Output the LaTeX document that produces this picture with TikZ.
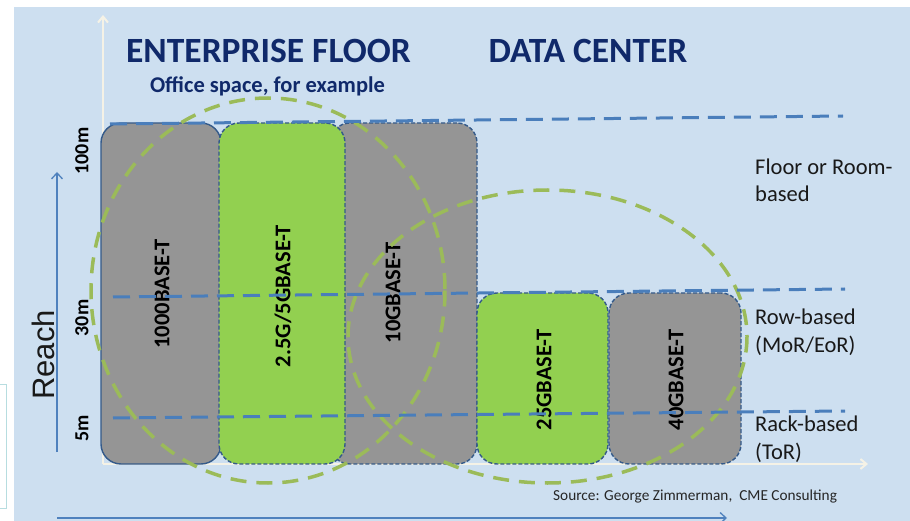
\documentclass[tikz,border=0pt]{standalone}
\usepackage{fontspec}
\setmainfont{Carlito}
\newfontfamily\arialfont{Liberation Sans}
\usetikzlibrary{arrows.meta}
\definecolor{bgblue}{HTML}{CDDFF0}
\definecolor{boxgray}{HTML}{959595}
\definecolor{boxgreen}{HTML}{92D050}
\definecolor{boxedge}{HTML}{345A8A}
\definecolor{lineblue}{HTML}{4A7EBB}
\definecolor{circgreen}{HTML}{9BBB59}
\definecolor{navy}{HTML}{10296A}
\definecolor{axiscream}{HTML}{F5F2E6}
\definecolor{tealedge}{HTML}{B7DDE0}
\definecolor{reachblue}{HTML}{4F81BD}
\tikzset{
  boxbase/.style={rounded corners=20pt, inner sep=0pt, outer sep=0pt, line width=1.4pt, draw=boxedge},
  graybox/.style={boxbase, fill=boxgray, dash pattern=on 4pt off 2pt},
  greenbox/.style={boxbase, fill=boxgreen, dash pattern=on 4pt off 2pt},
  solidgraybox/.style={boxbase, fill=boxgray},
  boxlabel/.style={rotate=90, font=\fontsize{22.5}{27}\selectfont\bfseries, text=black, inner sep=0pt},
  distlabel/.style={rotate=90, font=\fontsize{20}{24}\selectfont\bfseries, text=black, inner sep=0pt},
  sidelabel/.style={anchor=west, align=left, font=\fontsize{22.5}{27.5}\selectfont, text=black!90, inner sep=0pt},
  title/.style={font=\fontsize{35.5}{40}\selectfont\bfseries, text=navy, inner sep=0pt},
  subtitle/.style={font=\fontsize{22.5}{27}\selectfont\bfseries, text=navy, inner sep=0pt},
  reachline/.style={dashed, dash pattern=on 17pt off 9pt, line width=3pt, draw=lineblue},
  circ/.style={dash pattern=on 16pt off 10pt, line width=3.5pt, draw=circgreen},
  axisline/.style={line width=2pt, draw=axiscream, -{Straight Barb[length=6pt,width=10pt]}},
  thinarrow/.style={line width=1.3pt, draw=reachblue, -{Straight Barb[length=6pt,width=11pt]}}
}
\begin{document}
\begin{tikzpicture}[x=1pt,y=-1pt]
\useasboundingbox (0,0) rectangle (910,521);
\fill[white] (0,0) rectangle (910,521);
\fill[bgblue] (14,7) rectangle (910,521);
\draw[tealedge, line width=1pt, fill=white] (-5,384) rectangle (6,508);

% axes
\coordinate (origin) at (103,464);
\coordinate (ytop) at (103,15);
\coordinate (xright) at (868,464);
\draw[axisline] (origin) -- (ytop);
\draw[axisline] (origin) -- (xright);

% Reach arrow and bottom arrow
\coordinate (reachbot) at (57,452);
\coordinate (reachtop) at (57,172);
\draw[thinarrow] (reachbot) -- (reachtop);
\coordinate (botleft) at (57,518);
\coordinate (botright) at (727,518);
\draw[thinarrow] (botleft) -- (botright);
\node[rotate=90, font=\arialfont\fontsize{31}{36}\selectfont, text=black!90, inner sep=0pt] (reach) at (43,355) {Reach};

% boxes
\node[graybox, minimum width=147pt, minimum height=341pt] (b10g) at (403.5,293.5) {};
\node[solidgraybox, minimum width=120pt, minimum height=341pt] (b1000) at (161,293.5) {};
\node[greenbox, minimum width=126pt, minimum height=341pt] (b25g5g) at (282,293.5) {};
\node[greenbox, minimum width=131pt, minimum height=171pt] (b25) at (542.5,378.5) {};
\node[graybox, minimum width=132pt, minimum height=171pt] (b40) at (675,378.5) {};

\node[boxlabel] (l1000) at (162,294) {1000BASE-T};
\node[boxlabel] (l25g5g) at (283,296) {2.5G/5GBASE-T};
\node[boxlabel] (l10g) at (393,293) {10GBASE-T};
\node[boxlabel] (l25) at (544,380) {25GBASE-T};
\node[boxlabel] (l40) at (676,380) {40GBASE-T};

% green dashed ellipses
\draw[circ] (268,290.5) ellipse [x radius=177, y radius=192.5];
\draw[circ] (547.5,336.5) ellipse [x radius=199.5, y radius=146.5];

% blue dashed reach lines
\coordinate (r100a) at (110,124);
\coordinate (r100b) at (843,116);
\coordinate (r30a) at (113,297);
\coordinate (r30b) at (845,289);
\coordinate (r5a) at (113,418);
\coordinate (r5b) at (845,411);
\draw[reachline] (r100a) -- (r100b);
\draw[reachline] (r30a) -- (r30b);
\draw[reachline] (r5a) -- (r5b);

% distance labels
\node[distlabel] (d100) at (82,151) {100m};
\node[distlabel] (d30) at (82,318) {30m};
\node[distlabel] (d5) at (82,428) {5m};

% titles
\node[title] (ent) at (268.5,51) {ENTERPRISE FLOOR};
\node[title] (dc) at (588,51) {DATA CENTER};
\node[subtitle] (office) at (267.5,86) {Office space, for example};

% side labels
\node[sidelabel] (floor) at (755,180.5) {Floor or Room-\\based};
\node[sidelabel] (row) at (755,332) {Row-based\\(MoR/EoR)};
\node[sidelabel] (rack) at (755,439) {Rack-based\\(ToR)};

% source
\node[anchor=west, font=\fontsize{15.3}{17}\selectfont, text=black!85, inner sep=0pt] (src) at (553,497) {Source: George Zimmerman,\ \ CME Consulting};
\end{tikzpicture}
\end{document}
